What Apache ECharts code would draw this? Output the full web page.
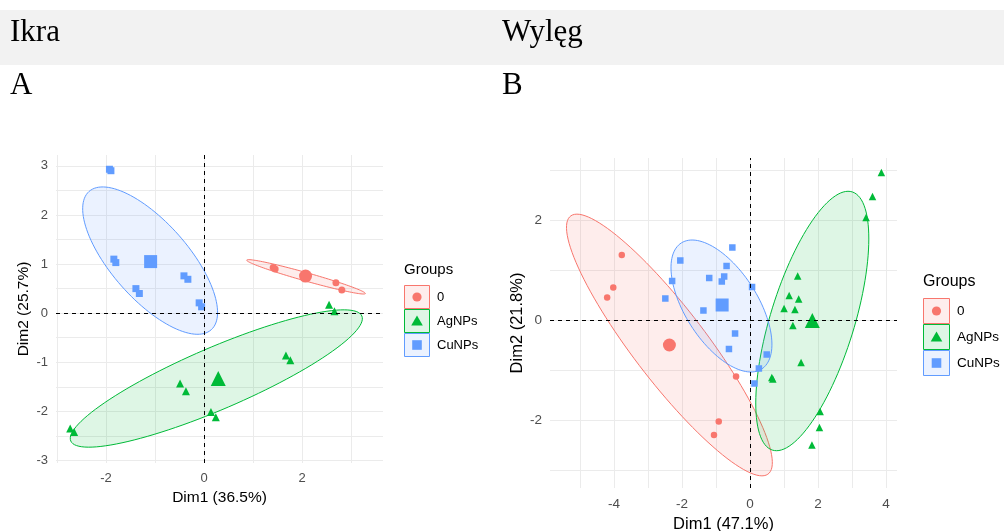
<!DOCTYPE html>
<html><head><meta charset="utf-8">
<script src="https://cdn.jsdelivr.net/npm/echarts@6/dist/echarts.min.js"></script>
<style>html,body{margin:0;padding:0;background:#fff}#c{width:1004px;height:531px}</style>
</head><body><div id="c"></div>
<script>
// ---------- data ----------
const groups = ['0', 'AgNPs', 'CuNPs'];
const colors = ['#F8766D', '#00BA38', '#619CFF'];
const symbols = ['circle', 'triangle', 'rect'];

// Panel A (Ikra)
const aTitle = 'Ikra', aLetter = 'A';
const aXName = 'Dim1 (36.5%)', aYName = 'Dim2 (25.7%)';
const a0  = [[1.41,0.93],[1.45,0.90],[2.05,0.78],[2.10,0.74],[2.69,0.62],[2.81,0.47]];
const aAg = [[2.55,0.17],[2.66,0.04],[1.67,-0.86],[1.76,-0.96],[0.14,-2.01],[0.24,-2.12],[-0.49,-1.43],[-0.37,-1.59],[-2.73,-2.35],[-2.65,-2.42]];
const aCu = [[-1.93,2.93],[-1.90,2.90],[-1.84,1.10],[-1.80,1.03],[-0.41,0.76],[-0.33,0.69],[-1.39,0.50],[-1.32,0.40],[-0.10,0.21],[-0.05,0.13]];
const aCent = [[2.07,0.755],[0.29,-1.33],[-1.09,1.05]];
// ellipse: [cx, cy, semi-major, semi-minor, angle(deg), group]
const aEll = [[2.08,0.74,1.257,0.085,-15.7,0],[0.25,-1.33,3.23,0.63,23.2,1],[-1.10,1.07,1.88,0.78,-48.5,2]];
const aXTicks = [-3,-2,-1,0,1,2,3], aXLabels = [-2,0,2];
const aYTicks = [-3,-2.5,-2,-1.5,-1,-0.5,0,0.5,1,1.5,2,2.5,3], aYLabels = [-3,-2,-1,0,1,2,3];

// Panel B (Wylęg)
const bTitle = 'Wylęg', bLetter = 'B';
const bXName = 'Dim1 (47.1%)', bYName = 'Dim2 (21.8%)';
const b0  = [[-3.77,1.30],[-4.02,0.65],[-4.20,0.45],[-0.41,-1.13],[-0.92,-2.03],[-1.06,-2.30]];
const bAg = [[3.86,2.95],[3.60,2.47],[3.41,2.05],[1.40,0.88],[1.15,0.49],[1.43,0.42],[1.00,0.23],[1.32,0.21],[1.26,-0.11],[1.50,-0.85],[0.64,-1.15],[0.67,-1.18],[2.06,-1.83],[2.04,-2.15],[1.82,-2.50]];
const bCu = [[-2.05,1.19],[-2.29,0.78],[-2.49,0.43],[-0.52,1.45],[-0.69,1.08],[-1.20,0.84],[-0.76,0.87],[-0.83,0.77],[0.06,0.66],[-1.37,0.19],[-0.44,-0.27],[-0.62,-0.58],[0.49,-0.69],[0.26,-0.97],[0.13,-1.27]];
const bCent = [[-2.37,-0.50],[1.83,-0.01],[-0.82,0.30]];
const bEll = [[-2.37,-0.50,3.90,0.89,-40.4,0],[1.83,-0.02,2.85,1.17,63,1],[-0.84,0.28,1.77,0.90,-39.3,2]];
const bXTicks = [-5,-4,-3,-2,-1,0,1,2,3,4], bXLabels = [-4,-2,0,2,4];
const bYTicks = [-3,-2,-1,0,1,2,3], bYLabels = [-2,0,2];

// ---------- helpers ----------
function hexA(hex, a) {
  const n = parseInt(hex.slice(1), 16);
  return 'rgba(' + ((n >> 16) & 255) + ',' + ((n >> 8) & 255) + ',' + (n & 255) + ',' + a + ')';
}
const FILL_A = 0.13;
function ellipseItem(params, api) {
  const cx = api.value(0), cy = api.value(1), a = api.value(2), b = api.value(3);
  const ang = api.value(4) * Math.PI / 180, gi = api.value(5);
  const pts = [];
  for (let i = 0; i < 120; i++) {
    const t = 2 * Math.PI * i / 120;
    const x = cx + a * Math.cos(t) * Math.cos(ang) - b * Math.sin(t) * Math.sin(ang);
    const y = cy + a * Math.cos(t) * Math.sin(ang) + b * Math.sin(t) * Math.cos(ang);
    pts.push(api.coord([x, y]));
  }
  return { type: 'polygon', shape: { points: pts },
    style: { fill: hexA(colors[gi], FILL_A), stroke: colors[gi], lineWidth: 1 } };
}

const sans = 'Liberation Sans, Arial, sans-serif';
function xAxisDef(gi, min, max, ticks, labels, name, fs, nameFs, nameGap) {
  return { type: 'value', gridIndex: gi, min: min, max: max, name: name,
    nameLocation: 'middle', nameGap: nameGap,
    nameTextStyle: { color: '#000', fontSize: nameFs, fontFamily: sans },
    axisLine: { show: false }, axisTick: { show: false, customValues: ticks },
    axisLabel: { customValues: labels, color: '#4D4D4D', fontSize: fs, fontFamily: sans, margin: 9 },
    splitLine: { show: true, lineStyle: { color: '#EBEBEB', width: 1 } } };
}
function yAxisDef(gi, min, max, ticks, labels, name, fs, nameFs, nameGap) {
  return { type: 'value', gridIndex: gi, min: min, max: max, name: name,
    nameLocation: 'middle', nameGap: nameGap,
    nameTextStyle: { color: '#000', fontSize: nameFs, fontFamily: sans },
    axisLine: { show: false }, axisTick: { show: false, customValues: ticks },
    axisLabel: { customValues: labels, color: '#4D4D4D', fontSize: fs, fontFamily: sans, margin: 8 },
    splitLine: { show: true, lineStyle: { color: '#EBEBEB', width: 1 } } };
}

function panelSeries(idx, ells, pts, cents, symSize, centSize) {
  const s = [];
  s.push({ type: 'custom', xAxisIndex: idx, yAxisIndex: idx, renderItem: ellipseItem,
    data: ells, encode: { x: 0, y: 1 }, z: 1, silent: true, clip: true });
  s.push({ type: 'scatter', xAxisIndex: idx, yAxisIndex: idx, data: [], z: 2, silent: true,
    markLine: { silent: true, symbol: 'none', label: { show: false }, animation: false,
      lineStyle: { color: '#000', type: [4, 4], width: 1 },
      data: [{ xAxis: 0 }, { yAxis: 0 }] } });
  for (let g = 0; g < 3; g++) {
    s.push({ type: 'scatter', xAxisIndex: idx, yAxisIndex: idx, data: pts[g], z: 3,
      symbol: symbols[g], symbolSize: g === 1 ? symSize + 1 : symSize,
      itemStyle: { color: colors[g], opacity: 1 } });
    s.push({ type: 'scatter', xAxisIndex: idx, yAxisIndex: idx, data: [cents[g]], z: 3,
      symbol: symbols[g], symbolSize: g === 1 ? centSize + 2 : centSize,
      itemStyle: { color: colors[g], opacity: 1 } });
  }
  return s;
}

function legendGraphics(x, y, boxW, boxH, titleFs, labelFs) {
  const els = [{ type: 'text', left: x, top: y, style: { text: 'Groups', fontSize: titleFs, fontFamily: sans, fill: '#000' } }];
  const y0 = y + titleFs + 8;
  for (let g = 0; g < 3; g++) {
    const yy = y0 + g * (boxH + 1);
    els.push({ type: 'rect', shape: { x: x + 0.5, y: yy + 0.5, width: boxW, height: boxH },
      style: { fill: hexA(colors[g], FILL_A), stroke: colors[g], lineWidth: 1 } });
    const cx = x + 0.5 + boxW / 2, cy = yy + 0.5 + boxH / 2;
    let mark;
    if (symbols[g] === 'circle') mark = { type: 'circle', shape: { cx: cx, cy: cy, r: 4.6 }, style: { fill: colors[g] } };
    else if (symbols[g] === 'triangle') mark = { type: 'polygon', shape: { points: [[cx, cy - 5.5], [cx + 5.8, cy + 4.5], [cx - 5.8, cy + 4.5]] }, style: { fill: colors[g] } };
    else mark = { type: 'rect', shape: { x: cx - 4.8, y: cy - 4.8, width: 9.6, height: 9.6 }, style: { fill: colors[g] } };
    els.push(mark);
    els.push({ type: 'text', x: x + boxW + 8, y: cy, style: { text: groups[g], fontSize: labelFs, fontFamily: sans, fill: '#000', verticalAlign: 'middle' } });
  }
  return els;
}

const serif = 'Liberation Serif, Times New Roman, serif';
const chart = echarts.init(document.getElementById('c'), null, { renderer: 'canvas' });
const graphics = [
  { type: 'rect', shape: { x: 0, y: 10, width: 1004, height: 55 }, style: { fill: '#F2F2F2' }, z: -10 },
  { type: 'text', x: 10, y: 32.5, style: { text: aTitle, fontSize: 31, fontFamily: serif, fill: '#000', verticalAlign: 'middle' } },
  { type: 'text', x: 502, y: 32.5, style: { text: bTitle, fontSize: 31, fontFamily: serif, fill: '#000', verticalAlign: 'middle' } },
  { type: 'text', x: 10, y: 86, style: { text: aLetter, fontSize: 31, fontFamily: serif, fill: '#000', verticalAlign: 'middle' } },
  { type: 'text', x: 502, y: 86, style: { text: bLetter, fontSize: 31, fontFamily: serif, fill: '#000', verticalAlign: 'middle' } }
].concat(legendGraphics(404, 262, 25, 23, 15, 13)).concat(legendGraphics(923, 274, 26, 25, 16, 13.5));

chart.setOption({
  animation: false,
  backgroundColor: '#fff',
  grid: [
    { left: 56, top: 155, width: 327, height: 308, outerBoundsMode: 'none', containLabel: false },
    { left: 550, top: 158, width: 347, height: 330, outerBoundsMode: 'none', containLabel: false }
  ],
  xAxis: [
    xAxisDef(0, -3.02, 3.65, aXTicks, aXLabels, aXName, 13, 15.5, 27),
    xAxisDef(1, -5.88, 4.32, bXTicks, bXLabels, bXName, 13.5, 16.5, 27)
  ],
  yAxis: [
    yAxisDef(0, -3.05, 3.22, aYTicks, aYLabels, aYName, 13, 15.5, 24),
    yAxisDef(1, -3.36, 3.24, bYTicks, bYLabels, bYName, 13.5, 16.5, 24)
  ],
  series: panelSeries(0, aEll, [a0, aAg, aCu], aCent, 7, 13)
    .concat(panelSeries(1, bEll, [b0, bAg, bCu], bCent, 6.5, 13)),
  graphic: graphics
});
</script></body></html>
